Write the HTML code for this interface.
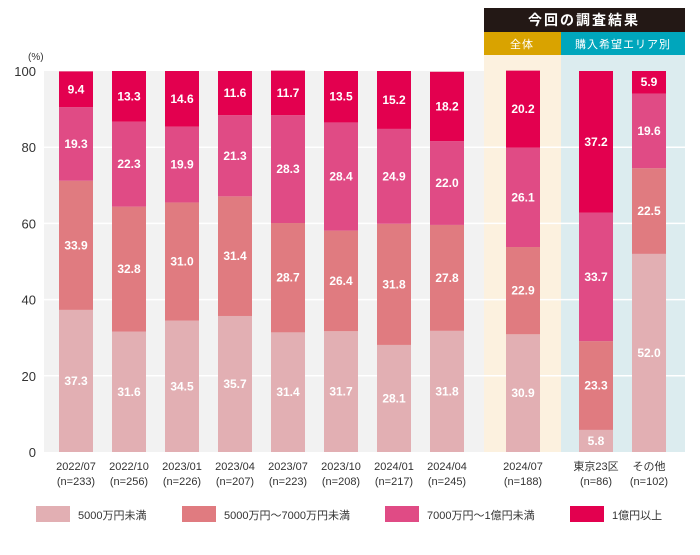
<!DOCTYPE html>
<html><head><meta charset="utf-8"><style>
body{margin:0;background:#fff;width:700px;height:550px;overflow:hidden;font-family:"Liberation Sans","Noto Sans CJK JP",sans-serif}
svg text{font-family:"Liberation Sans","Noto Sans CJK JP",sans-serif}
</style></head><body>
<svg id="c" width="700" height="550">
<rect x="44" y="71" width="440" height="381" fill="#f2f2f2"/>
<rect x="484" y="55" width="77" height="397" fill="#fcf1df"/>
<rect x="561" y="55" width="124" height="397" fill="#dcecef"/>
<rect x="484" y="8" width="201" height="24" fill="#231815"/>
<text x="584" y="25" fill="#fff" font-size="14" font-weight="bold" text-anchor="middle" letter-spacing="2">今回の調査結果</text>
<rect x="484" y="32" width="77" height="23" fill="#d9a300"/>
<text x="522" y="48" fill="#fff" font-size="11" text-anchor="middle" letter-spacing="1">全体</text>
<rect x="561" y="32" width="124" height="23" fill="#00a6bc"/>
<text x="623" y="48" fill="#fff" font-size="11" text-anchor="middle" letter-spacing="1">購入希望エリア別</text>
<text x="28" y="60" font-size="10" fill="#333">(%)</text>
<g id="grid"></g><g id="bars"></g><g id="xl"></g><g id="legend"></g>
</svg>
<script>
const categories=["2022/07","2022/10","2023/01","2023/04","2023/07","2023/10","2024/01","2024/04","2024/07","東京23区","その他"];
const sampleSizes=["(n=233)","(n=256)","(n=226)","(n=207)","(n=223)","(n=208)","(n=217)","(n=245)","(n=188)","(n=86)","(n=102)"];
const under5000=[37.3,31.6,34.5,35.7,31.4,31.7,28.1,31.8,30.9,5.8,52.0];
const from5000to7000=[33.9,32.8,31.0,31.4,28.7,26.4,31.8,27.8,22.9,23.3,22.5];
const from7000to1oku=[19.3,22.3,19.9,21.3,28.3,28.4,24.9,22.0,26.1,33.7,19.6];
const over1oku=[9.4,13.3,14.6,11.6,11.7,13.5,15.2,18.2,20.2,37.2,5.9];
const seriesNames=["5000万円未満","5000万円〜7000万円未満","7000万円〜1億円未満","1億円以上"];
const yTicks=[0,20,40,60,80,100];
const NS="http://www.w3.org/2000/svg";
const colors=["#e2afb3","#e07b80","#e04b85","#e3004f"];
const series=[under5000,from5000to7000,from7000to1oku,over1oku];
const y0=452,y1=71;
function y(v){return y0-(v/100)*(y0-y1);}
function xc(i){return i<8?76+i*53:(i===8?523:596+(i-9)*53);}
function mk(t,a,p){const e=document.createElementNS(NS,t);for(const k in a)e.setAttribute(k,a[k]);(p||document.getElementById('c')).appendChild(e);return e;}
const grid=document.getElementById('grid');
yTicks.forEach(t=>{
 if(t>0&&t<100){const l=mk('line',{x1:44,x2:685,y1:y(t),y2:y(t),stroke:'#fff','stroke-width':1.5},grid);
 
 }
 const tx=mk('text',{x:36,y:y(t)+5,'text-anchor':'end','font-size':13,fill:'#333'},grid);tx.textContent=t;
 
 
});
const bars=document.getElementById('bars');
categories.forEach((c,i)=>{
 let cum=0;
 series.forEach((s,k)=>{
  const v=s[i];const top=y(cum+v),bot=y(cum);
  const r=mk('rect',{x:xc(i)-17,y:top,width:34,height:bot-top,fill:colors[k]},bars);
  
  
  const t=mk('text',{x:xc(i),y:(top+bot)/2+4,'text-anchor':'middle','font-size':12,'font-weight':'bold',fill:'#fff'},bars);
  t.textContent=v.toFixed(1);
  
  
  cum+=v;
 });
 const xl=document.getElementById('xl');
 const a=mk('text',{x:xc(i),y:470,'text-anchor':'middle','font-size':11,fill:'#333'},xl);a.textContent=c;
 
 
 const b=mk('text',{x:xc(i),y:485,'text-anchor':'middle','font-size':11,fill:'#333'},xl);b.textContent=sampleSizes[i];
 
 
});
const lg=document.getElementById('legend');
const lx=[36,182,385,570];
seriesNames.forEach((n,k)=>{
 const r=mk('rect',{x:lx[k],y:506,width:34,height:16,fill:colors[k]},lg);
 
 
 const t=mk('text',{x:lx[k]+42,y:519,'font-size':11,fill:'#333'},lg);t.textContent=n;
 
 
});
</script>
</body></html>
